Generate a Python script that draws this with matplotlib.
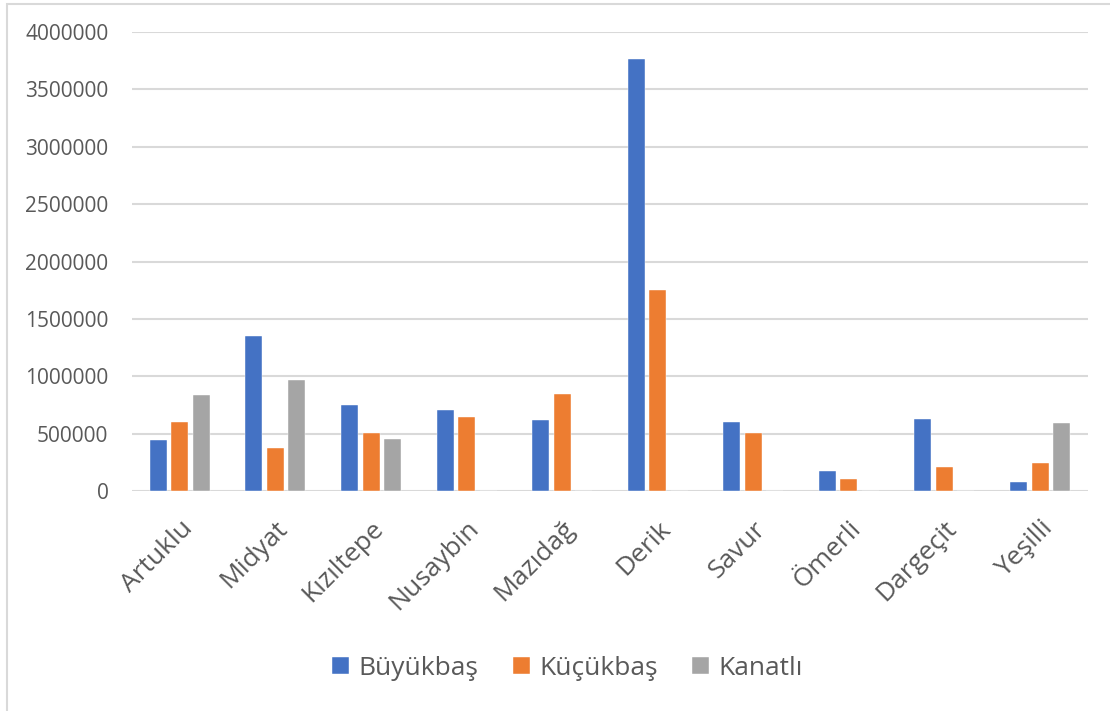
import matplotlib
matplotlib.use("Agg")
import matplotlib.pyplot as plt
import numpy as np

plt.rcParams['font.family'] = ['Open Sans', 'DejaVu Sans']

# ilçe bazında hayvan sayıları
districts = ["Artuklu", "Midyat", "Kızıltepe", "Nusaybin", "Mazıdağ",
             "Derik", "Savur", "Ömerli", "Dargeçit", "Yeşilli"]
buyukbas = [441000, 1352000, 750000, 704000, 623000,
            3765000, 605000, 178000, 625000, 81000]
kucukbas = [604000, 377000, 505000, 645000, 845000,
            1749000, 509000, 108000, 213000, 242000]
kanatli = [841000, 967000, 453000, 0, 0,
           0, 0, 0, 0, 596000]

series_names = ["Büyükbaş", "Küçükbaş", "Kanatlı"]
colors = ["#4472C4", "#ED7D31", "#A5A5A5"]
text_color = "#595959"

fig = plt.figure(figsize=(11.1, 7.11), dpi=100)
ax = fig.add_axes([0.119, 0.3094, 0.861, 0.6456])

x = np.arange(len(districts))
width = 0.178
step = 0.225
for i, (vals, name, col) in enumerate(zip([buyukbas, kucukbas, kanatli], series_names, colors)):
    ax.bar(x + (i - 1) * step, vals, width, color=col, label=name, zorder=3,
           edgecolor="white", linewidth=0.3)

ax.set_xlim(-0.5, len(districts) - 0.5)
ax.set_ylim(0, 4000000)
ax.set_yticks(np.arange(0, 4000001, 500000))
ax.set_yticklabels([str(v) for v in range(0, 4000001, 500000)])
ax.grid(True, axis="y", color="#D9D9D9", linewidth=1.5, zorder=0)
for s in ax.spines.values():
    s.set_visible(False)
ax.tick_params(axis="both", length=0, colors=text_color)
ax.tick_params(axis="y", labelsize=15, pad=17)

ax.set_xticks(x)
ax.set_xticklabels(districts, rotation=45, ha="right", va="top",
                   rotation_mode="anchor", fontsize=19, color=text_color)
ax.tick_params(axis="x", pad=18)

fig.legend(loc="center", bbox_to_anchor=(0.511, 0.06), ncol=3, frameon=False,
           fontsize=19, labelcolor=text_color, handlelength=0.65, handleheight=0.65,
           handletextpad=0.35, columnspacing=1.3)

# dış çerçeve
border = plt.Rectangle((0.0065, -0.05), 1.1, 1.044, transform=fig.transFigure,
                       fill=False, edgecolor="#D9D9D9", linewidth=1.5)
fig.add_artist(border)

fig.savefig("out.png", dpi=100)
